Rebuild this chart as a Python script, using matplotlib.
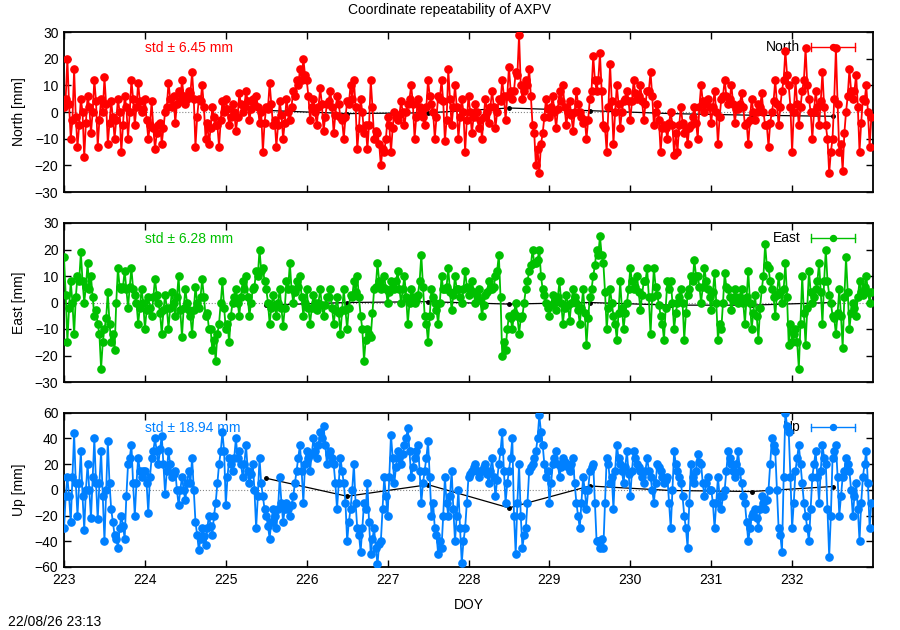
import numpy as np
import matplotlib
matplotlib.use("Agg")
import matplotlib.pyplot as plt

plt.rcParams['font.family'] = ['Liberation Sans', 'DejaVu Sans']
plt.rcParams['font.size'] = 10

# solutions on the full hour, one row per day (DOY 223 .. 232)
north = [
    2, 20, -10, 16, -13, 5, -17, 6, -8, 12, -13, 5, 13, -12, 4, -10, 5, -15, 6, -10, 12, -5, 11, 0,
    5, -10, 4, -14, -5, -12, 0, 11, 2, -4, 8, 12, 3, 8, 15, -13, 5, 10, -10, -12, 2, -5, -13, 4,
    5, -5, 3, -7, 7, 0, 8, -3, 5, 6, -4, -15, 2, 11, -5, -13, 4, -10, 5, -3, 8, 12, 16, 20,
    12, -3, 5, -5, 9, -7, 3, 8, -8, 6, -2, -10, 4, 10, 12, -14, 5, -8, -14, 12, -10, -8, -20, -15,
    -2, -15, 0, -3, 4, -5, 3, 10, -10, 5, 0, -5, 12, 3, -10, 6, 12, -11, 16, -5, 10, -10, 5, -15,
    6, -8, 3, -6, -10, 5, -4, 8, -6, 5, 12, -3, 17, 5, 15, 29, 5, 12, 16, -5, -20, -23, -8, 5,
    -2, 6, -6, 8, 10, -5, 4, -7, 8, 0, -4, -10, 5, 21, 8, 22, -5, -15, 18, -12, 10, -6, 4, 8,
    -3, 12, 5, 10, -3, 8, 15, -5, 3, -15, -5, -10, 0, -16, -15, 2, -8, -12, -5, 2, -10, 10, 0, 5,
    -4, 8, -12, 5, 12, 3, 10, -4, 1, 7, -5, -12, 5, -3, 3, 7, -5, -13, 0, 12, -5, 8, 23, 10,
    -15, 12, -5, 8, 24, 5, -10, 8, -5, 15, -5, -23, -10, 24, -15, -22, 0, 16, 5, 14, -15, 5, 10, -13,
]
east = [
    17, -15, 8, -12, 10, 19, 0, 15, 10, -5, -8, -25, -10, 4, -15, -18, 13, 5, 12, -2, 13, 3, -8, 5,
    -10, 2, -5, 9, 0, -12, 3, -10, 4, -5, 10, -13, 5, -3, -12, 6, -2, 9, -5, -10, -18, -22, -8, 8,
    -10, -15, 0, 5, -5, 8, 10, -5, 5, 12, 20, 13, 5, -8, 3, -5, 5, -9, 8, 15, 0, 8, 10, -5,
    5, -8, 3, -3, 5, -5, 2, 5, -8, 2, -12, 5, -10, 3, 8, 10, -5, -22, -10, -13, 5, 15, 5, 10,
    0, 8, 5, 12, 0, 10, -8, 5, 0, 3, 18, -5, -15, 5, 0, -8, 10, 5, 13, -3, 10, 5, 0, 12,
    3, 8, 0, 5, -5, 3, 8, 5, 10, 18, -20, -18, -5, -10, 0, -12, -5, 5, 12, 20, 15, 20, 5, 0,
    -5, 3, -3, 8, -8, 3, -7, 5, 0, -8, 5, -16, 2, 10, 20, 25, 15, -10, 5, -5, -14, 8, -10, 0,
    13, 5, 10, -3, 8, 13, -12, 13, 3, -5, -14, 8, 8, -10, 0, 5, -14, 3, 10, 16, 10, 0, 13, 5,
    -3, 11, -14, -10, 11, 5, -3, 5, 0, 5, -8, 12, -10, 3, -14, 5, 22, 13, 5, -5, 10, 0, 15, -16,
    -15, -10, -25, 10, -16, 12, 0, 5, 15, -8, 20, 3, -5, -12, 5, -17, 17, -10, 0, -5, 8, 3, 10, 0,
]
up = [
    -30, 10, -25, 44, -20, 30, -31, 20, -22, 40, -23, 30, -40, 38, -15, -35, -45, -20, -38, 20, 35, -20, 25, 10,
    15, -18, 25, 40, 20, 42, -3, 30, 10, 15, -12, 10, -8, 15, 25, -25, -47, -30, -43, -20, -35, -10, 20, 45,
    -12, 25, 15, 40, 30, 10, 35, 5, 20, -30, 25, -5, -20, -38, -15, -30, 10, -25, -10, -20, -5, 15, 35, -10,
    30, 15, 40, 25, 45, 50, 20, 30, 20, -15, 25, 5, -40, -15, 20, -30, -48, -10, 5, -50, -30, -58, -40, 10,
    -20, 43, 5, 30, 20, 35, 48, 10, 25, 35, -10, 15, 38, -20, -30, -50, -45, 10, -20, 15, -40, 0, -57, -30,
    10, 15, 20, 10, 15, 20, 5, 25, -5, 20, 45, -10, 15, 40, -50, 20, -45, -30, 15, 20, 30, 58, 35, 10,
    -10, 20, 30, 10, 25, 20, 15, 25, -10, -30, 10, -15, 15, 20, -40, -45, -45, 25, 5, -15, 35, 20, 5, 30,
    -5, 30, 20, 15, 5, 25, 10, -10, 20, 15, 5, 10, -30, 30, 15, 5, -20, -45, 20, 5, 28, 20, -5, 10,
    0, -30, 10, -15, 0, 30, 20, 10, 30, 5, -10, -40, -20, -15, -30, -5, -15, 0, 40, 30, -30, -48, 60, 45,
    -30, 15, 35, 5, -20, -40, 10, 30, -10, 35, 20, -52, 25, 35, -20, 10, 25, 15, -20, 5, -40, 10, 30, -30,
]

# solutions on the half hour
north_half = [
    5, 3, -3, -2, -5, 0, -4, 2, 0, 4, -3, 0, 3, -4, -2, -3, 0, -5, 2, 0, 5, 2, 4, 1,
    -3, -5, -6, -8, -4, -6, 2, 5, 6, 3, 4, 6, 5, 7, 5, -2, 4, 2, -4, -6, -2, -5, -3, 0,
    1, -2, 0, -2, 3, 2, 4, 1, 3, 2, 0, -4, 1, 3, -3, -5, -1, -4, 0, 2, 6, 10, 12, 14,
    6, 2, 0, 2, 3, -2, 4, 2, -1, 3, -3, -2, 3, 5, 2, -6, 0, -5, -5, 2, -7, -12, -14, -10,
    -5, -6, -2, -1, 0, 0, 5, 3, -2, 2, -2, 2, 6, 0, -2, 5, 4, -3, 5, 2, 2, -2, 0, -3,
    0, -2, 0, -3, -2, 0, 2, 2, 0, 4, 6, 6, 8, 8, 14, 10, 8, 10, 6, -8, -14, -12, -2, 1,
    2, 0, 1, 4, 2, 0, -1, 0, 3, -2, -3, -3, 8, 12, 12, 8, -6, 2, 4, 0, 3, 0, 5, 4,
    4, 7, 6, 4, 3, 8, 6, 0, -3, -6, -6, -4, -5, -8, -5, -4, -6, -6, -2, -4, 2, 4, 3, 2,
    2, 0, -2, 6, 6, 5, 3, 1, 3, 2, -4, -3, 0, 0, 2, 0, -5, -4, 4, 3, 2, 12, 14, 2,
    0, 3, 2, 12, 10, 0, 0, 2, 4, 2, -10, -15, 5, 3, -12, -8, 6, 8, 8, 2, -4, 4, 0, -2,
]
east_half = [
    3, -2, 0, 2, 8, 8, 6, 5, 2, -3, -12, -15, -6, -8, -12, 0, 6, 6, 5, 6, 5, 0, -2, 0,
    -3, -2, 2, 3, -4, -3, -2, -2, 0, 2, -3, -2, 0, -5, -3, 0, 2, 2, -4, -10, -14, -12, 0, -2,
    -8, -5, 2, 0, 2, 5, 2, 0, 6, 10, 12, 8, 0, -2, -1, 0, -2, -2, 5, 5, 4, 6, 2, 0,
    -2, -2, 0, 0, -1, -1, 2, -2, -3, -4, -3, -3, -2, 2, 4, 2, -10, -14, -12, -4, 6, 8, 6, 5,
    4, 6, 8, 5, 5, 2, 0, 2, 1, 8, 6, -8, -5, 2, -3, 0, 5, 6, 4, 3, 5, 2, 5, 6,
    5, 4, 3, 1, -1, 4, 5, 6, 12, 2, -15, -10, -6, -4, -5, -6, 0, 8, 14, 15, 16, 10, 3, -2,
    -1, 0, 2, 0, -2, -1, 0, 2, -3, -2, -4, -6, 5, 14, 18, 18, 4, -2, 0, -8, -4, -2, -4, 5,
    8, 6, 4, 3, 8, 2, 2, 6, -1, -8, -2, 5, 0, -4, 2, 0, -4, 5, 8, 10, 6, 6, 8, 2,
    4, 0, -8, 0, 6, 2, 1, 2, 2, 0, 2, 0, -4, -5, -2, 10, 14, 8, 2, 3, 4, 5, 2, -8,
    -12, -15, -8, -4, -2, 4, 2, 8, 4, 8, 8, 0, -6, -4, -5, 2, 4, -4, -2, 2, 4, 6, 4, 4,
]
up_half = [
    -5, -5, 10, 5, 5, -5, 0, 0, 10, 5, 5, -5, 0, 5, -25, -38, -30, -28, -5, 25, 5, 5, 15, 15,
    5, 10, 30, 30, 32, 20, 15, 20, 12, 0, 0, 0, 5, 5, 0, -35, -38, -36, -30, -28, -20, 5, 30, 30,
    10, 20, 25, 25, 20, 20, 15, 12, 0, -5, 5, -15, -28, -25, -20, -15, -10, -15, -15, -12, 5, 25, 15, 20,
    25, 28, 30, 35, 40, 35, 28, 25, 5, 5, 15, -10, -25, 0, -10, -35, -30, -15, -25, -38, -45, -42, -15, -5,
    10, 25, 18, 25, 28, 40, 30, 18, 30, 15, 5, 25, 10, -10, -35, -40, -20, -10, -5, -15, -20, -30, -40, -10,
    12, 18, 15, 15, 18, 12, 15, 10, 8, 30, 15, 5, 25, -20, -10, -20, -35, -10, 18, 25, 40, 45, 20, 15,
    5, 25, 20, 18, 22, 18, 20, 5, -20, -10, 0, 0, 18, -10, -40, -38, -10, 20, 10, 15, 25, 15, 18, 12,
    15, 25, 18, 10, 15, 15, 0, 5, 18, 10, 8, -10, 0, 20, 10, -5, -30, -10, 10, 15, 22, 5, 5, 0,
    -10, -10, -5, -5, 15, 25, 15, 20, 15, -5, -25, -30, -18, -22, -15, -10, -8, 20, 35, 0, -35, 10, 50, 10,
    -10, 25, 20, -10, -30, -15, 20, 10, 15, 25, -15, -20, 30, 10, -5, 15, 20, 0, -5, -15, -10, 20, 5, -10,
]

# daily solutions
day_doy = [225.5, 226.5, 227.5, 228.5, 229.5, 230.5, 231.5, 232.5]
north_day = [0.6, -0.6, -0.3, 1.5, 0.5, -0.6, -1.2, -1.6]
east_day = [-1, 0, 0.3, -0.6, 0, -1, -1, 0]
up_day = [9, -5, 4, -14, 3, -0.5, -1.3, 2.6]

# epochs every 30 min
doy = 223 + np.arange(2 * len(north)) / 48.0

panels = [
    ("North", north, north_half, north_day, "#ff0000", "std \u00b1 6.45 mm", 30, 10),
    ("East", east, east_half, east_day, "#00c000", "std \u00b1 6.28 mm", 30, 10),
    ("Up", up, up_half, up_day, "#0080ff", "std \u00b1 18.94 mm", 60, 20),
]

fig = plt.figure(figsize=(9, 6.3), dpi=100)
boxes = [(32, 192), (223, 382), (412.7, 567)]

for i, (name, vals, half, dvals, col, std, lim, step) in enumerate(panels):
    top, bot = boxes[i]
    ax = fig.add_axes([64 / 900, (630 - bot) / 630, 809 / 900, (bot - top) / 630])
    serie = np.column_stack([vals, half]).ravel()
    ax.axhline(0, color="#888888", ls=":", lw=0.8, zorder=1)
    ax.plot(day_doy, dvals, color="black", lw=0.9, marker="o", ms=2.5, zorder=2)
    ax.plot(doy, serie, color=col, lw=1.3, marker="o", ms=5.2, zorder=3)

    # key, drawn under the data like gnuplot does
    ax.text(0.91, 0.905, name, transform=ax.transAxes, ha="right", va="center",
            fontsize=10, zorder=0)
    ax.plot([0.923, 0.978], [0.905, 0.905], transform=ax.transAxes, color=col,
            lw=1.0, zorder=0)
    for cx in (0.923, 0.978):
        ax.plot([cx, cx], [0.88, 0.93], transform=ax.transAxes, color=col,
                lw=1.0, zorder=0)
    ax.plot([0.9505], [0.905], transform=ax.transAxes, color=col, marker="o",
            ms=4.3, zorder=0)
    ax.text(0.10, 0.9, std, transform=ax.transAxes, color=col, ha="left",
            va="center", fontsize=10, zorder=4)

    ax.set_xlim(223, 233)
    ax.set_ylim(-lim, lim)
    ax.set_yticks(np.arange(-lim, lim + 1, step))
    ax.set_xticks(np.arange(223, 233))
    ax.tick_params(direction="in", length=5, width=1, top=True, right=True,
                   labelsize=10, pad=4)
    ax.set_ylabel(name + " [mm]", fontsize=10, labelpad=6)
    for s in ax.spines.values():
        s.set_linewidth(1.3)
    if i < 2:
        ax.set_xticklabels([])
    else:
        ax.set_xlabel("DOY", fontsize=10, labelpad=8)

fig.text(0.5, 1 - 10 / 630, "Coordinate repeatability of AXPV", ha="center",
         va="center", fontsize=10)
fig.text(8 / 900, 1 - 622 / 630, "22/08/26 23:13", ha="left", va="center",
         fontsize=10)

fig.savefig("out.png", dpi=100)
